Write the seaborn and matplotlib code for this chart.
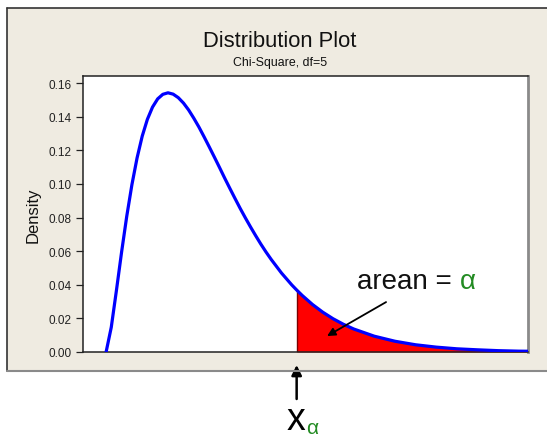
import numpy as np
import matplotlib
matplotlib.use("Agg")
import matplotlib.pyplot as plt
from matplotlib.lines import Line2D
from matplotlib.patches import Rectangle
import seaborn as sns

# -- Data (chi-square density, df=5) ----------------------------------------
x_values = [0, 0.25, 0.5, 0.75, 1, 1.25, 1.5, 1.75, 2, 2.25, 2.5, 2.75, 3,
            3.25, 3.5, 3.75, 4, 4.25, 4.5, 4.75, 5, 5.25, 5.5, 5.75, 6,
            6.25, 6.5, 6.75, 7, 7.25, 7.5, 7.75, 8, 8.5, 9, 9.236, 9.5, 10,
            10.5, 11, 11.5, 12, 13, 14, 15, 16, 17, 18, 19, 20, 21]
density = [0, 0.0147, 0.0366, 0.0594, 0.0807, 0.0995, 0.1154, 0.1284,
           0.1384, 0.1457, 0.1506, 0.1533, 0.1542, 0.1534, 0.1513, 0.1481,
           0.1440, 0.1391, 0.1338, 0.1280, 0.1220, 0.1159, 0.1097, 0.1034,
           0.0973, 0.0913, 0.0854, 0.0798, 0.0744, 0.0692, 0.0642, 0.0595,
           0.0551, 0.0470, 0.0399, 0.0369, 0.0337, 0.0283, 0.0237, 0.0198,
           0.0165, 0.0137, 0.0094, 0.0064, 0.0043, 0.0029, 0.0019, 0.0013,
           0.0008, 0.0005, 0.0004]
x_alpha = 9.236
y_ticks = [0.00, 0.02, 0.04, 0.06, 0.08, 0.10, 0.12, 0.14, 0.16]

title = "Distribution Plot"
subtitle = "Chi-Square, df=5"

# -- Setup -----------------------------------------------------------------
sns.set_theme(style="white")
plt.rcParams["font.family"] = ["Liberation Sans", "DejaVu Sans"]

W, H = 547, 439
BEIGE = "#efebe1"
GREEN = "#238b23"


def fx(px):
    return px / W


def fy(py):
    return 1 - py / H


fig = plt.figure(figsize=(W / 100, H / 100), dpi=100, facecolor="white")

# beige panel with its frame lines
fig.add_artist(Rectangle((fx(7), fy(372)), 1.0, fy(9) - fy(372),
                         transform=fig.transFigure, facecolor=BEIGE,
                         edgecolor="none", zorder=-5))
fig.add_artist(Line2D([fx(7), fx(7)], [fy(372), fy(9)], color="#333333",
                      lw=1.2, transform=fig.transFigure))
fig.add_artist(Line2D([fx(7), 1.0], [fy(9), fy(9)], color="#333333",
                      lw=1.2, transform=fig.transFigure))
fig.add_artist(Line2D([fx(7), 1.0], [fy(372), fy(372)], color="#8a8a8a",
                      lw=1.5, transform=fig.transFigure))

ax = fig.add_axes([fx(83), fy(353), fx(528) - fx(83), fy(77) - fy(353)])
ax.set_facecolor("white")

x_arr = np.array(x_values)
y_arr = np.array(density)
tail = x_arr >= x_alpha

ax.fill_between(x_arr[tail], 0, y_arr[tail], color="#ff0000", lw=0, zorder=1)
ax.vlines(x_alpha, 0, y_arr[x_arr == x_alpha][0], color="#7a0000", lw=1,
          zorder=1.5)
sns.lineplot(x=x_values, y=density, color="#0000ff", lw=2.3, sort=False,
             ax=ax, zorder=3)

ax.set_xlim(-1.12, 20.45)
ax.set_ylim(0, 0.1642)
ax.set_xticks([])
ax.set_yticks(y_ticks)
ax.set_yticklabels([f"{t:.2f}" for t in y_ticks])
ax.tick_params(axis="y", left=True, direction="out", length=5, width=0.9,
               pad=3, labelsize=8.5, colors="#222222")
ax.set_ylabel("Density", fontsize=12, va="center", color="#111111")
ax.yaxis.set_label_coords(-0.112, 0.5)

for side in ["top", "left", "bottom"]:
    ax.spines[side].set_color("#222222")
    ax.spines[side].set_linewidth(1.1)
ax.spines["right"].set_color("#8a8a8a")
ax.spines["right"].set_linewidth(2)

# -- Titles ------------------------------------------------------------------
fig.text(fx(280), fy(47), title, ha="center", va="baseline", fontsize=15.8,
         color="#111111")
fig.text(fx(280), fy(66), subtitle, ha="center", va="baseline", fontsize=8.9,
         color="#111111")

# -- Annotations -------------------------------------------------------------
t_area = fig.text(fx(357), fy(289), "arean = ", ha="left", va="baseline",
                  fontsize=20, color="#111111")
ax.annotate("α", xy=(1, 0), xycoords=t_area, ha="left", va="bottom",
            fontsize=20, color=GREEN)
ax.annotate("", xy=(10.71, 0.0095), xytext=(13.57, 0.0297),
            arrowprops=dict(arrowstyle="-|>", color="black", lw=1.3,
                            mutation_scale=12, shrinkA=0, shrinkB=0))

ax.annotate("", xy=(x_alpha, fy(366)), xytext=(x_alpha, fy(400)),
            xycoords=("data", "figure fraction"),
            textcoords=("data", "figure fraction"), annotation_clip=False,
            arrowprops=dict(arrowstyle="-|>", color="black", lw=1.8,
                            mutation_scale=15, shrinkA=0, shrinkB=0))
t_x = fig.text(fx(287), fy(430), "x", ha="left", va="baseline", fontsize=27,
               color="black")
ax.annotate("α", xy=(1, 0), xycoords=t_x, xytext=(0, 0),
            textcoords="offset points", ha="left", va="bottom", fontsize=15,
            color=GREEN)

fig.savefig("out.png", dpi=100)
